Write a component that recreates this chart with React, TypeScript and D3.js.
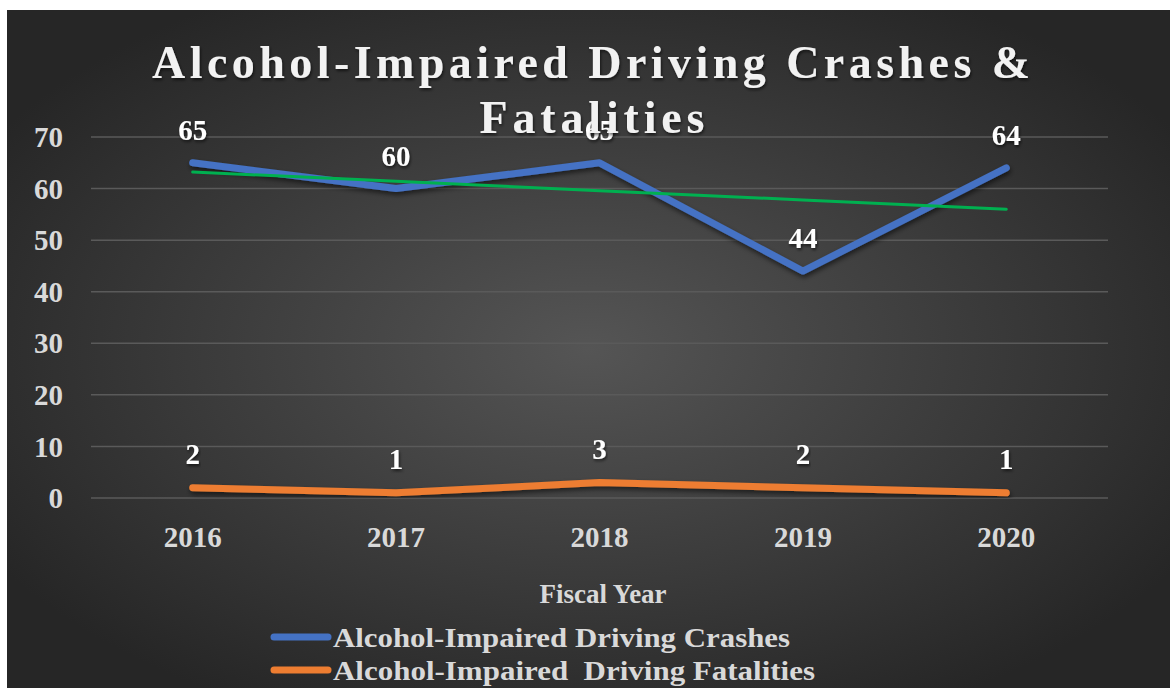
import React from "react";
import * as d3 from "d3";

const years = ["2016", "2017", "2018", "2019", "2020"];
const crashes = [65, 60, 65, 44, 64];
const fatalities = [2, 1, 3, 2, 1];
const yTicks = [0, 10, 20, 30, 40, 50, 60, 70];
const titleLines = ["Alcohol-Impaired Driving Crashes &", "Fatalities"];
const legendLabels = ["Alcohol-Impaired Driving Crashes", "Alcohol-Impaired  Driving Fatalities"];

const W = 1170, H = 688;
const FONT = "'Liberation Serif', 'DejaVu Serif', serif";

export default function App() {
  const x = d3.scaleBand<string>().domain(years).range([91, 1108]);
  const cx = (d: string) => (x(d) as number) + x.bandwidth() / 2;
  const y = d3.scaleLinear().domain([0, 70]).range([498, 137]);

  // linear trendline (Excel-style) for crashes
  const idx = crashes.map((_, i) => i);
  const mx = d3.mean(idx) as number;
  const my = d3.mean(crashes) as number;
  const slope = d3.sum(idx, (i) => (i - mx) * (crashes[i] - my)) / d3.sum(idx, (i) => (i - mx) ** 2);
  const icpt = my - slope * mx;
  const trend = years.map((yr, i) => [cx(yr), y(icpt + slope * i)] as [number, number]);

  const line = d3.line<[number, number]>();
  const crashPts = years.map((yr, i) => [cx(yr), y(crashes[i])] as [number, number]);
  const fatPts = years.map((yr, i) => [cx(yr), y(fatalities[i])] as [number, number]);

  return (
    <svg width={W} height={H} style={{ position: "absolute", left: 0, top: 0 }}>
      <defs>
        <radialGradient id="bg" cx="0.5" cy="0.5" r="0.6">
          <stop offset="0" stopColor="#555555" />
          <stop offset="1" stopColor="#262626" />
        </radialGradient>
        <filter id="sh" x="-10%" y="-50%" width="120%" height="200%">
          <feDropShadow dx="1" dy="3" stdDeviation="2.5" floodColor="#000" floodOpacity="0.55" />
        </filter>
        <filter id="tsh" x="-5%" y="-20%" width="110%" height="140%">
          <feDropShadow dx="1" dy="2" stdDeviation="1.5" floodColor="#000" floodOpacity="0.6" />
        </filter>
      </defs>
      <rect x={0} y={0} width={W} height={H} fill="#ffffff" />
      <rect x={7} y={10} width={W - 7} height={H - 10} fill="url(#bg)" />

      {/* gridlines */}
      {yTicks.map((t) => (
        <line key={t} x1={91} x2={1108} y1={y(t)} y2={y(t)} stroke="#5a5a5a" strokeWidth={1.5} />
      ))}

      {/* y tick labels */}
      {yTicks.map((t) => (
        <text key={t} x={63} y={y(t)} dy="0.35em" textAnchor="end" fontFamily={FONT} fontWeight="bold" fontSize={29} fill="#d9d9d9">
          {t}
        </text>
      ))}

      {/* x tick labels */}
      {years.map((yr) => (
        <text key={yr} x={cx(yr)} y={537} dy="0.35em" textAnchor="middle" fontFamily={FONT} fontWeight="bold" fontSize={29} fill="#d9d9d9">
          {yr}
        </text>
      ))}

      {/* lines */}
      <path d={line(crashPts) as string} fill="none" stroke="#4472C4" strokeWidth={7} strokeLinecap="round" strokeLinejoin="round" filter="url(#sh)" />
      <path d={line(fatPts) as string} fill="none" stroke="#ED7D31" strokeWidth={7} strokeLinecap="round" strokeLinejoin="round" filter="url(#sh)" />
      <path d={line(trend) as string} fill="none" stroke="#00B050" strokeWidth={3} strokeLinecap="round" />

      {/* data labels */}
      {years.map((yr, i) => (
        <text key={"c" + yr} x={cx(yr)} y={y(crashes[i]) - 33} dy="0.35em" textAnchor="middle" fontFamily={FONT} fontWeight="bold" fontSize={29} fill="#ffffff" filter="url(#tsh)">
          {crashes[i]}
        </text>
      ))}
      {years.map((yr, i) => (
        <text key={"f" + yr} x={cx(yr)} y={y(fatalities[i]) - 34} dy="0.35em" textAnchor="middle" fontFamily={FONT} fontWeight="bold" fontSize={29} fill="#ffffff" filter="url(#tsh)">
          {fatalities[i]}
        </text>
      ))}

      {/* title */}
      <text x={591} y={78} textAnchor="middle" fontFamily={FONT} fontWeight="bold" fontSize={46} fill="#f2f2f2" textLength={878} lengthAdjust="spacing" filter="url(#tsh)">
        {titleLines[0]}
      </text>
      <text x={592} y={133} textAnchor="middle" fontFamily={FONT} fontWeight="bold" fontSize={46} fill="#f2f2f2" textLength={225} lengthAdjust="spacing" filter="url(#tsh)">
        {titleLines[1]}
      </text>

      {/* axis title */}
      <text x={603} y={594} dy="0.35em" textAnchor="middle" fontFamily={FONT} fontWeight="bold" fontSize={27} fill="#d9d9d9">
        Fiscal Year
      </text>

      {/* legend */}
      {legendLabels.map((lab, i) => (
        <g key={lab}>
          <line x1={274} x2={328} y1={637 + i * 33} y2={637 + i * 33} stroke={i === 0 ? "#4472C4" : "#ED7D31"} strokeWidth={7} strokeLinecap="round" />
          <text x={333} y={637 + i * 33} dy="0.35em" fontFamily={FONT} fontWeight="bold" fontSize={28} fill="#d9d9d9" style={{ whiteSpace: "pre" }} textLength={i === 0 ? 457 : 482} lengthAdjust="spacingAndGlyphs">
            {lab}
          </text>
        </g>
      ))}
    </svg>
  );
}
